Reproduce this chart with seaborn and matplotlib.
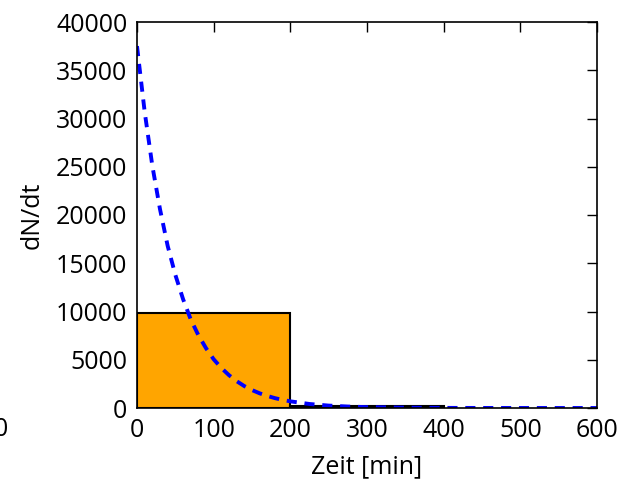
import matplotlib
matplotlib.use("Agg")
import matplotlib.pyplot as plt
import seaborn as sns
import pandas as pd

# Data
bin_edges = [0, 200, 400]
bin_left = [0, 200]
bin_heights = [9800, 250]

t_min = [0, 10, 20, 30, 40, 50, 60, 70, 80, 90, 100, 110, 120, 130, 140, 150,
         160, 170, 180, 190, 200, 225, 250, 275, 300, 350, 400, 450, 500, 550, 600]
rate = [37500, 30700, 25100, 20600, 16800, 13800, 11300, 9200, 7550, 6200, 5050,
        4150, 3400, 2780, 2270, 1860, 1520, 1250, 1020, 840, 690, 415, 250, 150,
        90, 34, 12, 5, 2, 1, 0]

xticks = [0, 100, 200, 300, 400, 500, 600]
yticks = [0, 5000, 10000, 15000, 20000, 25000, 30000, 35000, 40000]

sns.set_style("white")
plt.rcParams['font.family'] = ['Open Sans', 'DejaVu Sans']
plt.rcParams['text.color'] = 'black'
plt.rcParams['axes.labelcolor'] = 'black'
plt.rcParams['xtick.color'] = 'black'
plt.rcParams['ytick.color'] = 'black'

FS = 18

fig = plt.figure(figsize=(6.28, 4.84), dpi=100)
ax = fig.add_axes([137/628, 1-408/484, (597-137)/628, (408-22)/484])

bars = pd.DataFrame({"x": bin_left, "w": bin_heights})
sns.histplot(data=bars, x="x", weights="w", bins=bin_edges, ax=ax,
             color="orange", alpha=1.0, edgecolor="black", linewidth=1.5)

line = pd.DataFrame({"t": t_min, "r": rate})
sns.lineplot(data=line, x="t", y="r", ax=ax, color="blue", linewidth=2.8,
             linestyle=(0, (2.6, 2.0)))

ax.set_xlim(0, 600)
ax.set_ylim(0, 40000)
ax.set_xticks(xticks)
ax.set_yticks(yticks)
ax.set_xlabel("Zeit [min]", fontsize=FS, labelpad=8)
ax.set_ylabel("dN/dt", fontsize=FS, labelpad=8)
ax.tick_params(direction="in", length=7, width=1, top=True, right=True,
               labelsize=FS, pad=7, color="black", labelcolor="black")
for s in ax.spines.values():
    s.set_visible(True)
    s.set_color("black")
    s.set_linewidth(1.2)

fig.text(1/628, 1-430/484, "0", ha="center", va="center", fontsize=FS)

fig.savefig("out.png", dpi=100)
